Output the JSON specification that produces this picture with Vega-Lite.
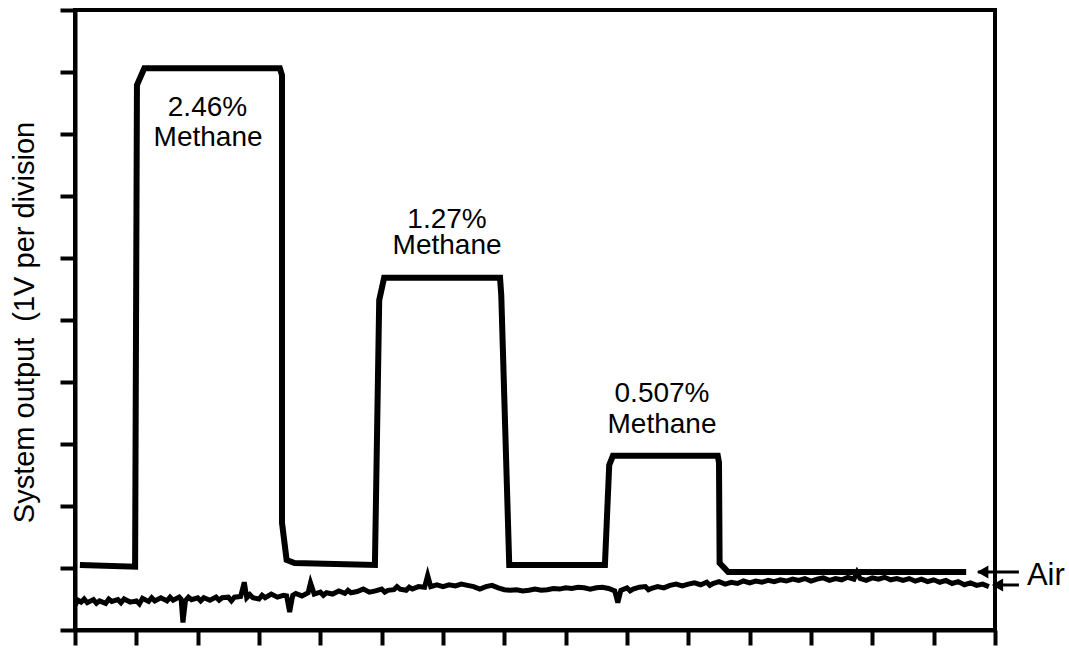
{
  "$schema": "https://vega.github.io/schema/vega-lite/v6.json",
  "width": 920,
  "height": 620,
  "autosize": {"type": "none"},
  "padding": {"left": 75, "top": 10, "right": 74, "bottom": 21},
  "background": "white",
  "config": {"view": {"stroke": "black", "strokeWidth": 4}, "font": "Liberation Sans"},
  "datasets": {
    "signal": [
      {"t": 0.08, "v": 1.05}, {"t": 0.98, "v": 1.02}, {"t": 1.01, "v": 8.79}, {"t": 1.13, "v": 9.06},
      {"t": 3.34, "v": 9.06}, {"t": 3.375, "v": 8.95}, {"t": 3.375, "v": 1.73}, {"t": 3.45, "v": 1.13},
      {"t": 3.58, "v": 1.08}, {"t": 4.89, "v": 1.05}, {"t": 4.96, "v": 5.32}, {"t": 5.04, "v": 5.68},
      {"t": 6.93, "v": 5.68}, {"t": 6.95, "v": 5.4}, {"t": 7.08, "v": 1.05}, {"t": 8.64, "v": 1.05},
      {"t": 8.71, "v": 2.66}, {"t": 8.77, "v": 2.81}, {"t": 10.48, "v": 2.81}, {"t": 10.5, "v": 2.7},
      {"t": 10.51, "v": 1.08}, {"t": 10.65, "v": 0.935}, {"t": 14.53, "v": 0.935}
    ],
    "noise": [
      {"t": 0.0, "v": 0.40}, {"t": 0.05, "v": 0.48}, {"t": 0.1, "v": 0.45}, {"t": 0.15, "v": 0.50}, {"t": 0.2, "v": 0.44}, {"t": 0.3, "v": 0.49}, {"t": 0.35, "v": 0.43}, {"t": 0.4, "v": 0.47},
      {"t": 0.5, "v": 0.43}, {"t": 0.55, "v": 0.50}, {"t": 0.6, "v": 0.46}, {"t": 0.7, "v": 0.49}, {"t": 0.75, "v": 0.44}, {"t": 0.8, "v": 0.50}, {"t": 0.9, "v": 0.45},
      {"t": 1.0, "v": 0.47}, {"t": 1.05, "v": 0.42}, {"t": 1.1, "v": 0.51}, {"t": 1.2, "v": 0.46}, {"t": 1.25, "v": 0.52}, {"t": 1.3, "v": 0.47}, {"t": 1.4, "v": 0.52},
      {"t": 1.5, "v": 0.47}, {"t": 1.55, "v": 0.53}, {"t": 1.6, "v": 0.48}, {"t": 1.7, "v": 0.53}, {"t": 1.73, "v": 0.50}, {"t": 1.76, "v": 0.12},
      {"t": 1.8, "v": 0.47}, {"t": 1.85, "v": 0.53}, {"t": 1.9, "v": 0.49}, {"t": 2.0, "v": 0.52}, {"t": 2.05, "v": 0.47}, {"t": 2.1, "v": 0.52}, {"t": 2.2, "v": 0.48},
      {"t": 2.3, "v": 0.53}, {"t": 2.35, "v": 0.48}, {"t": 2.4, "v": 0.52}, {"t": 2.5, "v": 0.53}, {"t": 2.55, "v": 0.47}, {"t": 2.6, "v": 0.53}, {"t": 2.7, "v": 0.54},
      {"t": 2.76, "v": 0.77}, {"t": 2.8, "v": 0.52}, {"t": 2.85, "v": 0.57}, {"t": 2.9, "v": 0.52}, {"t": 3.0, "v": 0.50}, {"t": 3.05, "v": 0.56}, {"t": 3.1, "v": 0.52},
      {"t": 3.2, "v": 0.58}, {"t": 3.3, "v": 0.53}, {"t": 3.4, "v": 0.56}, {"t": 3.45, "v": 0.55}, {"t": 3.5, "v": 0.29},
      {"t": 3.55, "v": 0.56}, {"t": 3.6, "v": 0.59}, {"t": 3.7, "v": 0.55}, {"t": 3.8, "v": 0.60}, {"t": 3.84, "v": 0.76},
      {"t": 3.9, "v": 0.58}, {"t": 4.0, "v": 0.61}, {"t": 4.05, "v": 0.56}, {"t": 4.1, "v": 0.60}, {"t": 4.2, "v": 0.58}, {"t": 4.3, "v": 0.63},
      {"t": 4.4, "v": 0.59}, {"t": 4.45, "v": 0.64}, {"t": 4.5, "v": 0.60}, {"t": 4.6, "v": 0.62}, {"t": 4.7, "v": 0.66}, {"t": 4.8, "v": 0.61},
      {"t": 4.9, "v": 0.63}, {"t": 5.0, "v": 0.66}, {"t": 5.05, "v": 0.61}, {"t": 5.1, "v": 0.64}, {"t": 5.2, "v": 0.65}, {"t": 5.25, "v": 0.70}, {"t": 5.3, "v": 0.66},
      {"t": 5.4, "v": 0.64}, {"t": 5.45, "v": 0.69}, {"t": 5.5, "v": 0.66}, {"t": 5.6, "v": 0.70}, {"t": 5.7, "v": 0.69}, {"t": 5.75, "v": 0.88},
      {"t": 5.8, "v": 0.70}, {"t": 5.9, "v": 0.73}, {"t": 6.0, "v": 0.70}, {"t": 6.1, "v": 0.73}, {"t": 6.2, "v": 0.71},
      {"t": 6.3, "v": 0.74}, {"t": 6.4, "v": 0.72}, {"t": 6.5, "v": 0.70}, {"t": 6.6, "v": 0.66}, {"t": 6.7, "v": 0.70},
      {"t": 6.8, "v": 0.72}, {"t": 6.9, "v": 0.68}, {"t": 7.0, "v": 0.65}, {"t": 7.1, "v": 0.64}, {"t": 7.2, "v": 0.65},
      {"t": 7.3, "v": 0.63}, {"t": 7.4, "v": 0.64}, {"t": 7.5, "v": 0.66}, {"t": 7.6, "v": 0.64}, {"t": 7.7, "v": 0.65},
      {"t": 7.8, "v": 0.67}, {"t": 7.9, "v": 0.66}, {"t": 8.0, "v": 0.68}, {"t": 8.1, "v": 0.67}, {"t": 8.2, "v": 0.69},
      {"t": 8.3, "v": 0.68}, {"t": 8.4, "v": 0.66}, {"t": 8.5, "v": 0.68}, {"t": 8.6, "v": 0.69}, {"t": 8.7, "v": 0.67},
      {"t": 8.8, "v": 0.63}, {"t": 8.85, "v": 0.44}, {"t": 8.9, "v": 0.64}, {"t": 9.0, "v": 0.68}, {"t": 9.05, "v": 0.63}, {"t": 9.1, "v": 0.66},
      {"t": 9.2, "v": 0.69}, {"t": 9.3, "v": 0.70}, {"t": 9.35, "v": 0.65}, {"t": 9.4, "v": 0.67}, {"t": 9.5, "v": 0.70}, {"t": 9.6, "v": 0.68},
      {"t": 9.7, "v": 0.72}, {"t": 9.8, "v": 0.74}, {"t": 9.9, "v": 0.71}, {"t": 10.0, "v": 0.74}, {"t": 10.1, "v": 0.76},
      {"t": 10.2, "v": 0.73}, {"t": 10.3, "v": 0.77}, {"t": 10.35, "v": 0.72}, {"t": 10.4, "v": 0.75}, {"t": 10.5, "v": 0.78}, {"t": 10.6, "v": 0.74},
      {"t": 10.7, "v": 0.77}, {"t": 10.8, "v": 0.75}, {"t": 10.9, "v": 0.79}, {"t": 11.0, "v": 0.76}, {"t": 11.1, "v": 0.79},
      {"t": 11.2, "v": 0.77}, {"t": 11.3, "v": 0.80}, {"t": 11.4, "v": 0.78}, {"t": 11.5, "v": 0.81}, {"t": 11.6, "v": 0.79},
      {"t": 11.7, "v": 0.82}, {"t": 11.8, "v": 0.80}, {"t": 11.9, "v": 0.83}, {"t": 12.0, "v": 0.79}, {"t": 12.1, "v": 0.82},
      {"t": 12.2, "v": 0.84}, {"t": 12.3, "v": 0.80}, {"t": 12.4, "v": 0.83}, {"t": 12.5, "v": 0.81}, {"t": 12.6, "v": 0.85},
      {"t": 12.7, "v": 0.82}, {"t": 12.75, "v": 0.93}, {"t": 12.8, "v": 0.83}, {"t": 12.9, "v": 0.80}, {"t": 13.0, "v": 0.84},
      {"t": 13.1, "v": 0.82}, {"t": 13.2, "v": 0.85}, {"t": 13.3, "v": 0.81}, {"t": 13.4, "v": 0.83}, {"t": 13.5, "v": 0.80},
      {"t": 13.6, "v": 0.83}, {"t": 13.7, "v": 0.79}, {"t": 13.8, "v": 0.82}, {"t": 13.9, "v": 0.78}, {"t": 14.0, "v": 0.81},
      {"t": 14.1, "v": 0.77}, {"t": 14.2, "v": 0.80}, {"t": 14.3, "v": 0.75}, {"t": 14.4, "v": 0.78}, {"t": 14.5, "v": 0.73},
      {"t": 14.6, "v": 0.76}, {"t": 14.7, "v": 0.72}, {"t": 14.8, "v": 0.74}, {"t": 14.9, "v": 0.70}
    ],
    "labels": [
      {"t": 2.16, "v": 8.29, "label": "2.46%"},
      {"t": 2.17, "v": 7.806, "label": "Methane"},
      {"t": 6.066, "v": 6.48, "label": "1.27%"},
      {"t": 6.066, "v": 6.065, "label": "Methane"},
      {"t": 9.571, "v": 3.67, "label": "0.507%"},
      {"t": 9.571, "v": 3.177, "label": "Methane"}
    ],
    "arrows": [
      {"t": 14.72, "t2": 15.39, "v": 0.935},
      {"t": 14.98, "t2": 15.39, "v": 0.726}
    ],
    "heads": [
      {"t": 14.8, "v": 0.935},
      {"t": 15.04, "v": 0.726}
    ],
    "air": [
      {"t": 15.52, "v": 0.726, "label": "Air"}
    ]
  },
  "encoding": {
    "x": {
      "field": "t", "type": "quantitative",
      "scale": {"domain": [0, 15], "nice": false, "zero": false},
      "axis": {"values": [0,1,2,3,4,5,6,7,8,9,10,11,12,13,14,15], "labels": false, "grid": false, "title": null,
               "domainColor": "black", "domainWidth": 4, "tickColor": "black", "tickWidth": 4, "tickSize": 15}
    },
    "y": {
      "field": "v", "type": "quantitative",
      "scale": {"domain": [0, 10], "nice": false, "zero": false},
      "axis": {"values": [0,1,2,3,4,5,6,7,8,9,10], "labels": false, "grid": false,
               "title": "System output \u00a0(1V per division",
               "titleFont": "Liberation Sans", "titleFontSize": 29, "titleFontWeight": "normal", "titleColor": "black",
               "titleAngle": -90, "titleBaseline": "alphabetic", "titleAlign": "center", "titleX": -42, "titleY": 312,
               "domainColor": "black", "domainWidth": 4, "tickColor": "black", "tickWidth": 4, "tickSize": 15}
    }
  },
  "layer": [
    {"data": {"name": "noise"}, "mark": {"type": "line", "color": "black", "strokeWidth": 5}},
    {"data": {"name": "signal"}, "mark": {"type": "line", "color": "black", "strokeWidth": 6, "strokeJoin": "miter"}},
    {"data": {"name": "labels"}, "mark": {"type": "text", "fontSize": 28, "font": "Liberation Sans", "align": "center", "baseline": "alphabetic", "color": "black"},
     "encoding": {"text": {"field": "label"}}},
    {"data": {"name": "arrows"}, "mark": {"type": "rule", "color": "black", "strokeWidth": 3},
     "encoding": {"x2": {"field": "t2"}}},
    {"data": {"name": "heads"}, "mark": {"type": "point", "shape": "triangle-left", "filled": true, "color": "black", "size": 170, "opacity": 1}},
    {"data": {"name": "air"}, "mark": {"type": "text", "fontSize": 31, "font": "Liberation Sans", "align": "left", "baseline": "alphabetic", "color": "black"},
     "encoding": {"text": {"field": "label"}}}
  ]
}
